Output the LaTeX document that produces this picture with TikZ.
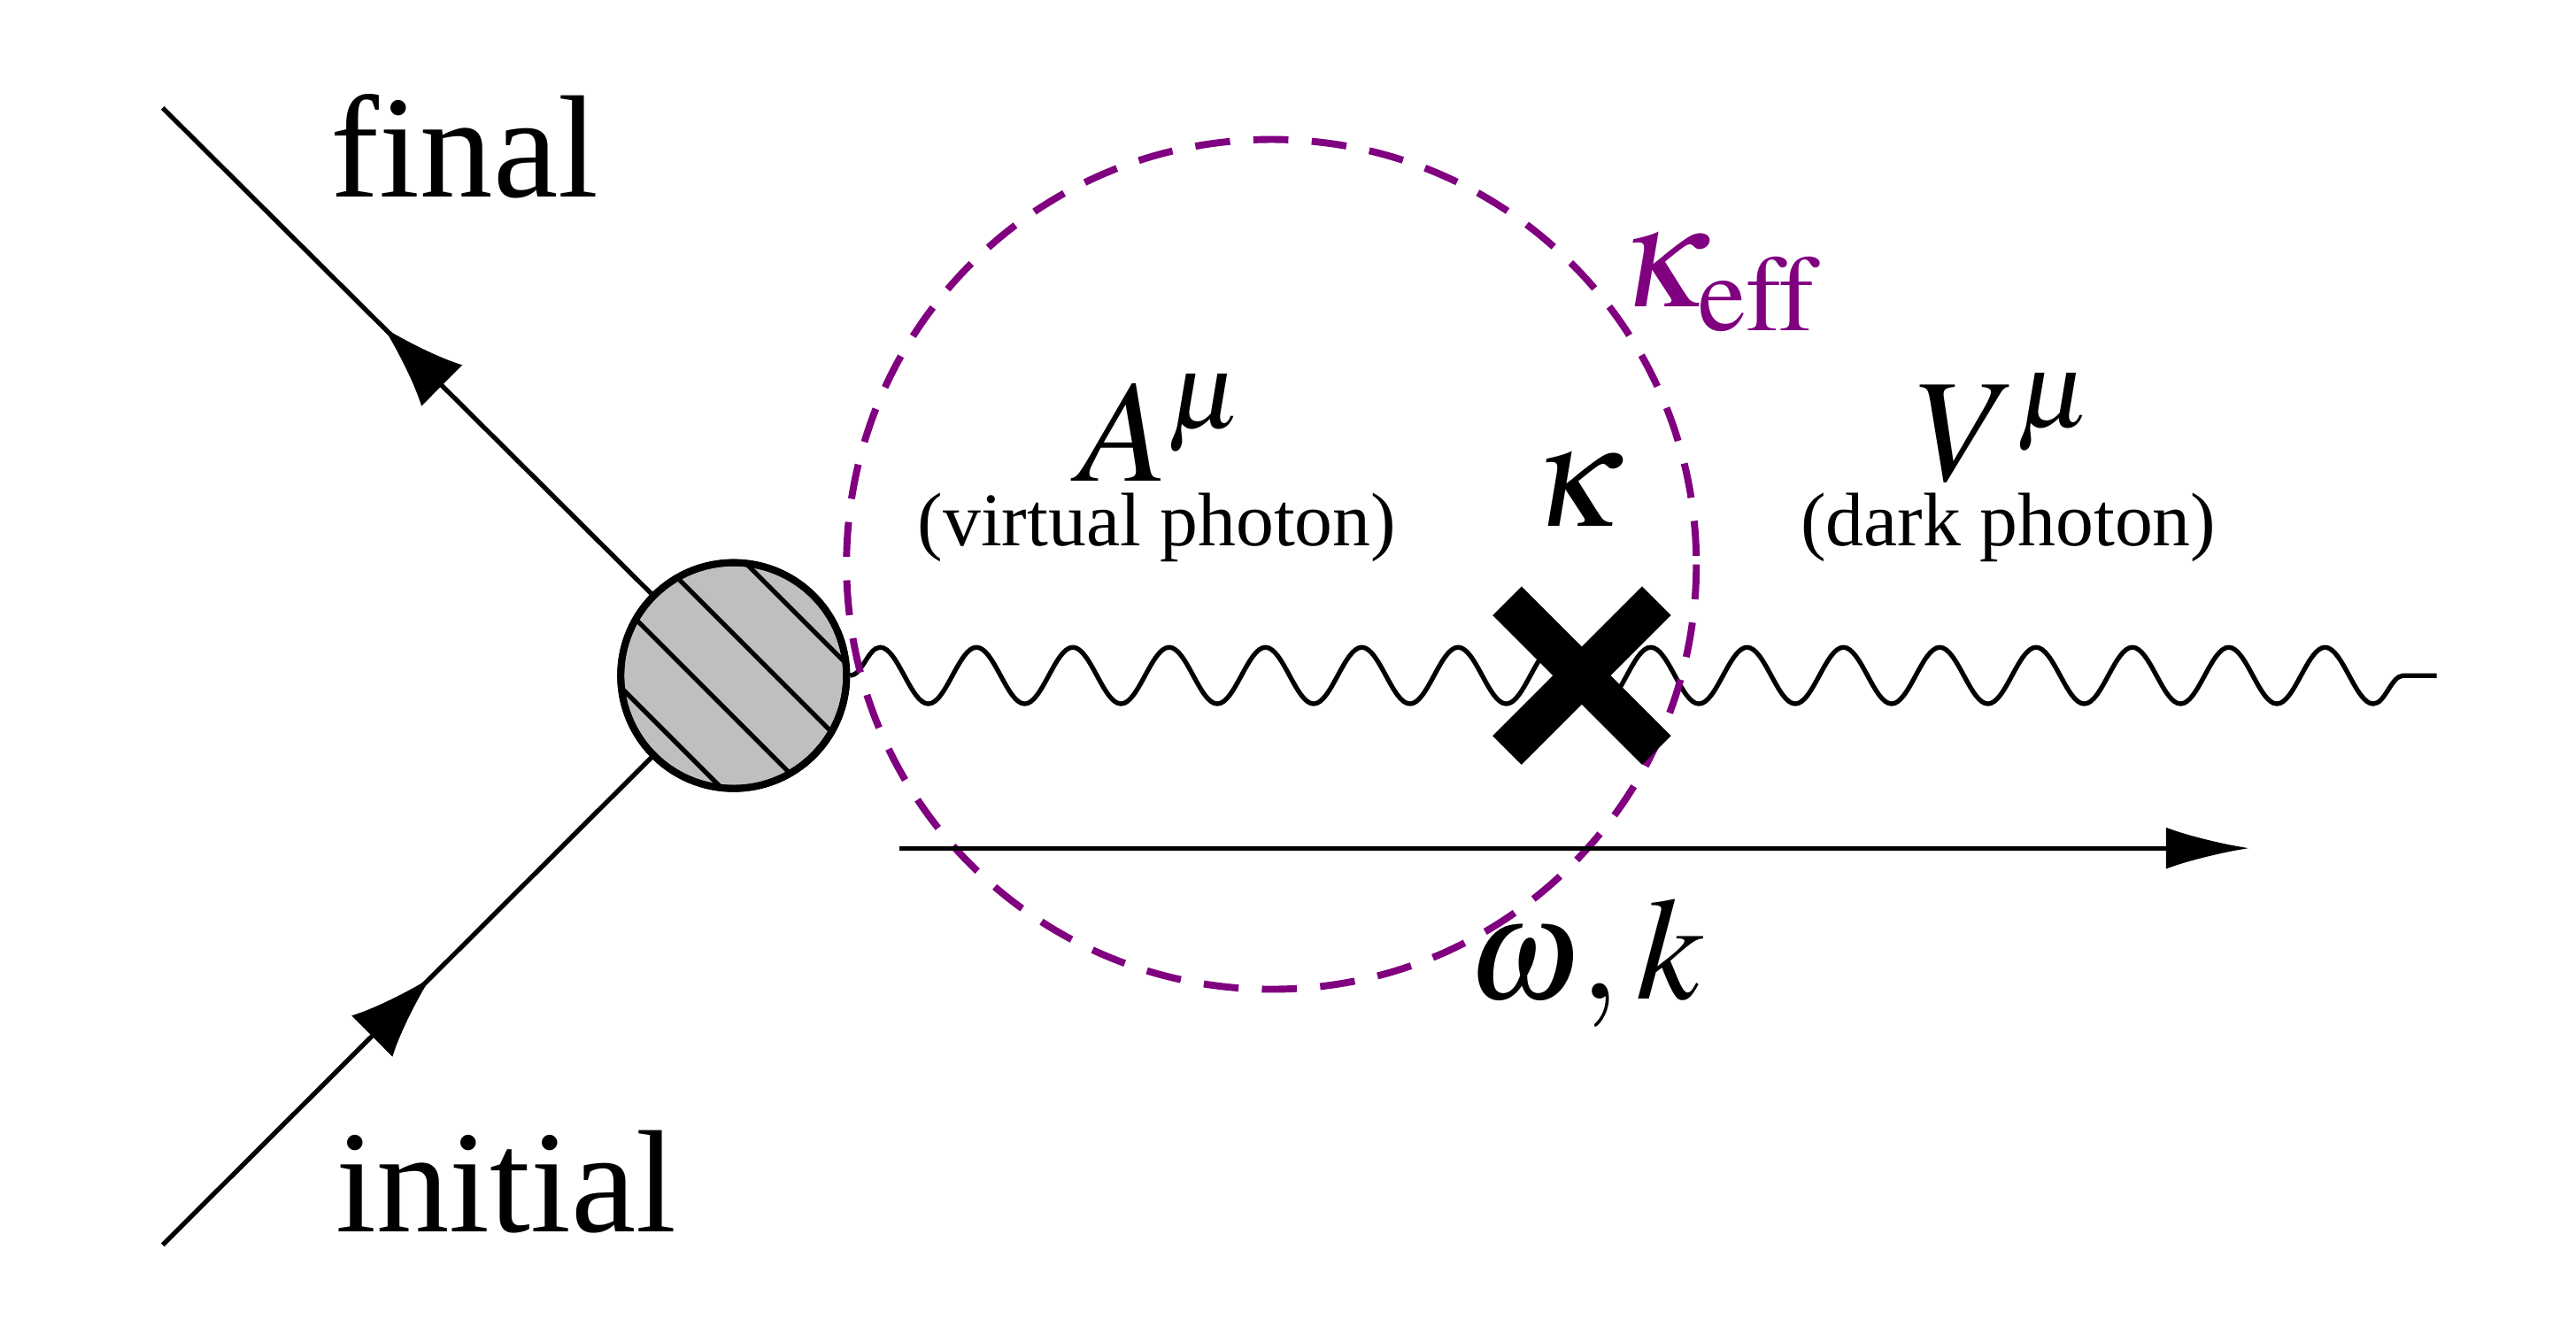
\documentclass[tikz,border=0pt]{standalone}
\usepackage{mathptmx}
\usepackage{fontspec}
\setmainfont{Liberation Serif}
\usepackage{tikz}
\usetikzlibrary{calc,decorations.pathmorphing,decorations.markings,arrows.meta}
\definecolor{darkpurple}{RGB}{128,0,128}
\tikzset{>=latex}
\tikzset{
  fermion/.style={thick, postaction={decorate},
    decoration={markings, mark=at position 0.55 with {\arrow{Latex[length=5mm,width=3.5mm]}}}},
  photon/.style={thick, decorate, decoration={snake, segment length=0.58cm, amplitude=0.17cm}},
  lbl/.style={font=\fontsize{25}{30}\selectfont},
  small/.style={font=\fontsize{13}{16}\selectfont}
}

\begin{document}
\begin{tikzpicture}[x=0.01cm,y=-0.01cm]
  \useasboundingbox (0,0) rectangle (1552,808);

  % Nodes
  \node[circle, draw, very thick, fill=gray!50, minimum size=1.36cm] (blob) at (442,407) {};
  \coordinate (fin) at (98,65);
  \coordinate (ini) at (98,750);
  \coordinate (wend) at (1468,407);
  \coordinate (x) at (953,407);
  \coordinate (ka) at (542,511);
  \coordinate (kb) at (1355,511);

  % hatching
  \begin{scope}
    \clip (442,407) circle (68);
    \foreach \d in {-125,-75,...,125}
      \draw[thick] (442+\d-100,407-100) -- (442+\d+100,407+100);
  \end{scope}
  \draw[very thick] (442,407) circle (68);

  \draw[fermion] (ini) -- (blob);
  \draw[fermion] (blob) -- (fin);
  \draw[photon] (blob.east) -- (wend);
  \draw[dashed, very thick, darkpurple, dash pattern=on 6pt off 4pt] (766,340) circle (256);
  \draw[line width=7pt] ($(x)+(-45,-45)$) -- ($(x)+(45,45)$);
  \draw[line width=7pt] ($(x)+(-45,45)$) -- ($(x)+(45,-45)$);
  \draw[thick, -{Latex[length=5mm,width=2.5mm]}] (ka) -- (kb);

  % Labels
  \node[lbl] (tfinal) at (280,88) {final};
  \node[lbl] (tinit) at (305,712) {initial};
  \node[lbl] (tA) at (700,258) {$A^{\mu}$};
  \node[small] (tvirt) at (697,318) {(virtual photon)};
  \node[lbl] (tk) at (950,295) {$\kappa$};
  \node[lbl] (tV) at (1208,258) {$V^{\mu}$};
  \node[small] (tdark) at (1210,318) {(dark photon)};
  \node[lbl, darkpurple] (tkeff) at (1035,170) {$\kappa_{\mathrm{eff}}$};
  \node[lbl] (tom) at (955,580) {$\omega,k$};
\end{tikzpicture}
\end{document}
